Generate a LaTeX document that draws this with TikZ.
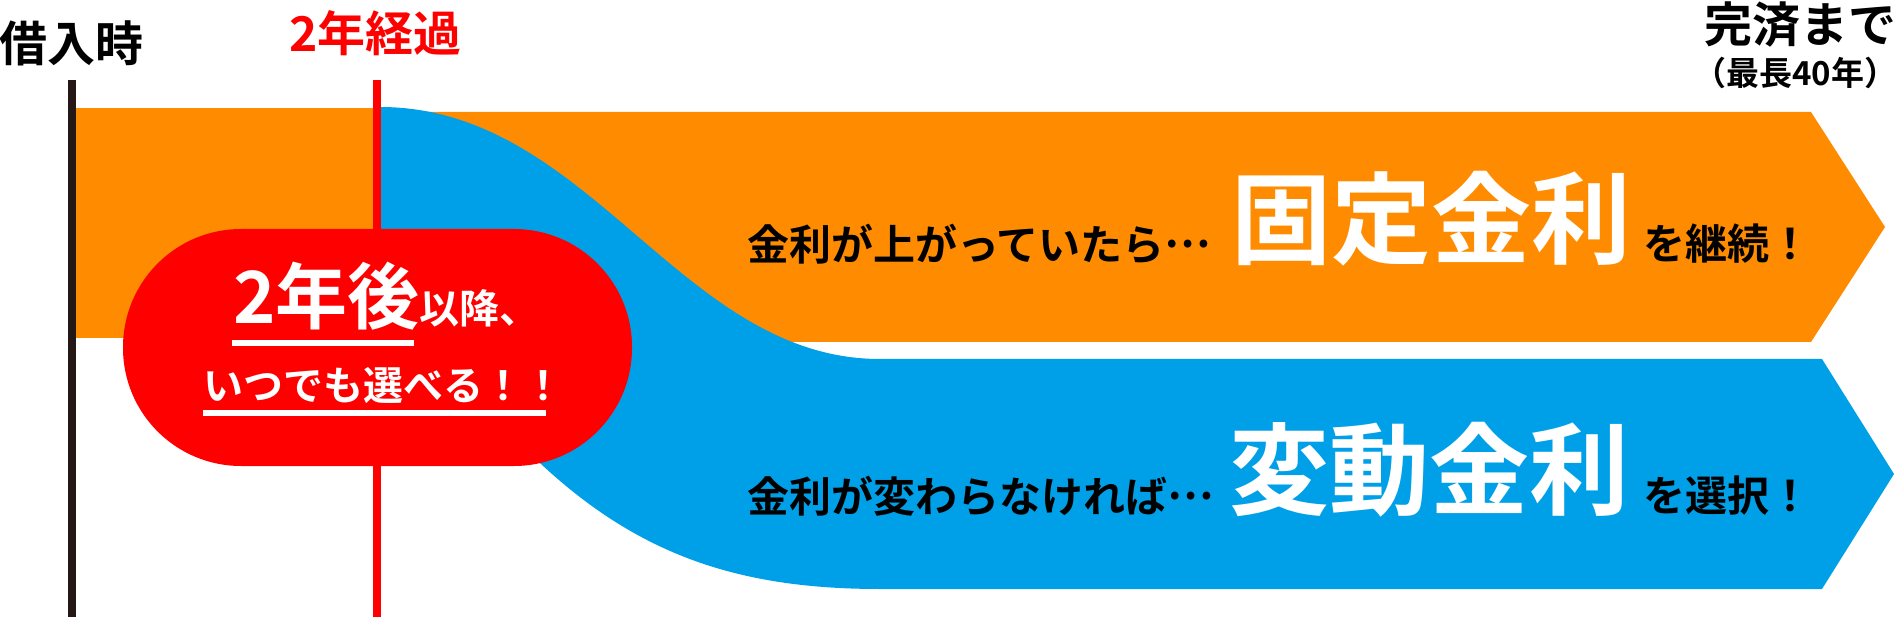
\documentclass[tikz,border=0pt]{standalone}
\usepackage{fontspec}
\setmainfont{Noto Sans CJK JP}[BoldFont={Noto Sans CJK JP Bold}]
\definecolor{bandorange}{RGB}{255,140,0}
\definecolor{bandblue}{RGB}{0,160,233}
\definecolor{pillred}{RGB}{255,0,0}
\definecolor{lineblack}{RGB}{35,24,21}
\newcommand{\middots}{\raisebox{0.3em}{…}}
\begin{document}
\begin{tikzpicture}[x=1pt,y=-1pt,
  lbl/.style={inner sep=0pt, outer sep=0pt, font=\bfseries},
  bigw/.style={lbl, text=white, font=\bfseries\fontsize{100}{100}\selectfont},
  midb/.style={lbl, text=black, font=\bfseries\fontsize{42}{42}\selectfont},
  head/.style={lbl, font=\bfseries\fontsize{48}{48}\selectfont},
  uline/.style={white, line width=6pt}]
\useasboundingbox (0,0) rectangle (1898,617);
% bands
\fill[bandorange] (76,108) rectangle (380,338);
\fill[bandorange] (380,112) -- (1811,112) -- (1885,227) -- (1811,342) -- (380,342) -- cycle;
\fill[bandblue] (380,107) .. controls (590,107) and (680,359) .. (880,359) -- (1822,359) -- (1894,474) -- (1822,589) -- (880,589) .. controls (710,589) and (600,540) .. (480,400) -- (380,400) -- cycle;
% time lines
\coordinate (bt) at (72,80); \coordinate (bb) at (72,617);
\coordinate (rt) at (377,80); \coordinate (rb) at (377,617);
\draw[lineblack, line width=8pt] (bt) -- (bb);
\draw[pillred, line width=8pt] (rt) -- (rb);
% pill
\node[fill=pillred, rounded corners=118pt, minimum width=509pt, minimum height=237pt, inner sep=0pt] (pill) at (377.5,347.5) {};
% headings
\node[head, anchor=west] (borrow) at (-1,43) {借入時};
\node[head, anchor=west, text=pillred] (twoyr) at (289,33) {2年経過};
\node[head, anchor=east] (done) at (1896,25) {完済まで};
\node[lbl, anchor=east, font=\bfseries\fontsize{33}{33}\selectfont] (max) at (1897,73) {（最長40年）};
% pill texts
\node[lbl, anchor=base west, text=white] (after) at (233,324) {{\fontsize{72}{72}\selectfont 2年後}{\fontsize{40}{40}\selectfont 以降、}};
\coordinate (u1a) at (232,343); \coordinate (u1b) at (414,343);
\draw[uline] (u1a) -- (u1b);
\node[lbl, anchor=base west, text=white, font=\bfseries\fontsize{40}{40}\selectfont] (any) at (203,401) {いつでも選べる！！};
\coordinate (u2a) at (203,413); \coordinate (u2b) at (546,413);
\draw[uline] (u2a) -- (u2b);
% fixed
\node[midb, anchor=west] (ifup) at (747,244) {金利が上がっていたら\middots};
\node[bigw, anchor=west] (fixed) at (1231,219) {固定金利};
\node[midb, anchor=west] (keep) at (1643,244) {を継続！};
% variable
\node[midb, anchor=west] (ifsame) at (747,496) {金利が変わらなければ\middots};
\node[bigw, anchor=west] (var) at (1229,470) {変動金利};
\node[midb, anchor=west] (choose) at (1643,496) {を選択！};
\end{tikzpicture}
\end{document}
